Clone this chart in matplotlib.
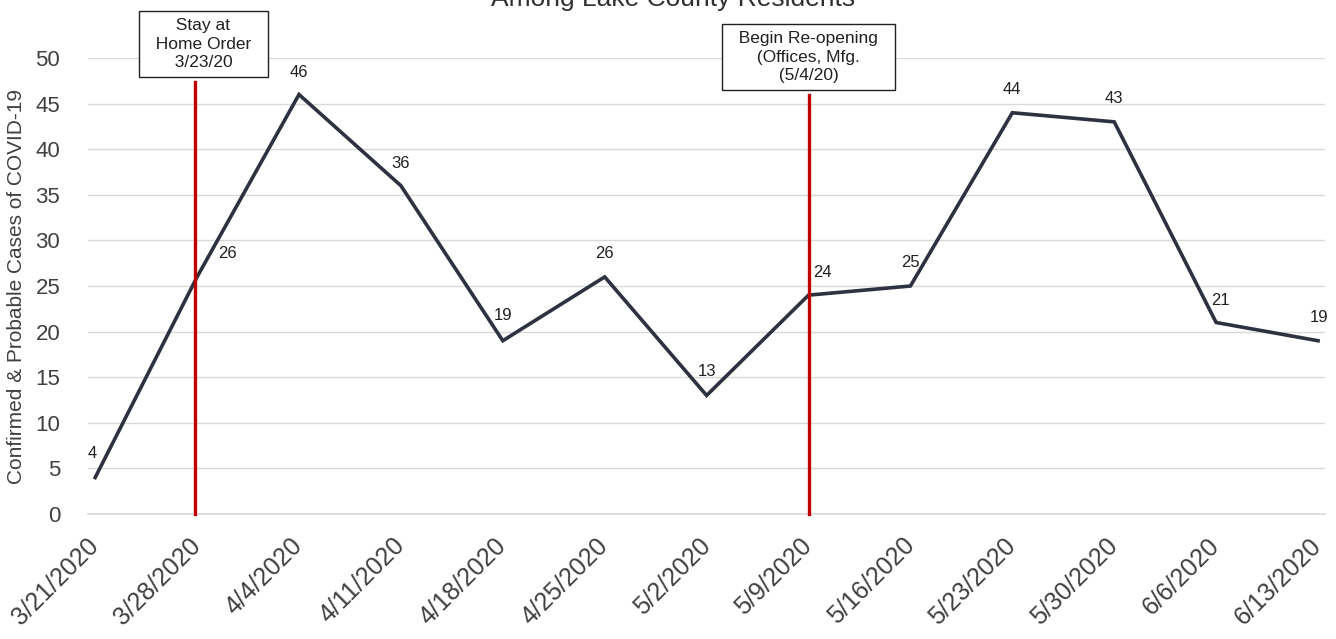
import matplotlib.pyplot as plt

plt.rcParams["font.family"] = ["Liberation Sans", "DejaVu Sans"]

weeks = ["3/21/2020", "3/28/2020", "4/4/2020", "4/11/2020", "4/18/2020",
         "4/25/2020", "5/2/2020", "5/9/2020", "5/16/2020", "5/23/2020",
         "5/30/2020", "6/6/2020", "6/13/2020"]
cases = [4, 26, 46, 36, 19, 26, 13, 24, 25, 44, 43, 21, 19]

# value label offsets from their points (dx, dy in points)
label_offsets = [(-2, 17), (22, 17), (0, 16), (0, 16), (0, 18), (0, 17), (0, 17),
                 (10, 16), (0, 17), (0, 17), (0, 17), (3, 16), (1, 17)]

events = ["  Stay at  \n  Home Order  \n  3/23/20  ",
          "  Begin Re-opening  \n  (Offices, Mfg.  \n  (5/4/20)  "]
event_x = [0.98, 7.0]
event_box_y = [51.5, 50.1]
event_line_top = [47.4, 45.9]
event_box_dx = [0.08, 0.0]

LINE = "#2E3140"
RED = "#C00000"
GRID = "#D9D9D9"
TEXT = "#404040"

fig = plt.figure(figsize=(13.36, 6.39), dpi=100)
ax = fig.add_axes([0.0659, 0.1956, 0.926, 0.7136])

x = list(range(len(weeks)))
ax.plot(x, cases, color=LINE, linewidth=2.6, zorder=3, solid_joinstyle="miter")

for xi, v, (dx, dy) in zip(x, cases, label_offsets):
    ax.annotate(str(v), (xi, v), xytext=(dx, dy), textcoords="offset points",
                ha="center", va="center", fontsize=12, color="#202020")

for label, ex, by, lt, bdx in zip(events, event_x, event_box_y, event_line_top, event_box_dx):
    ax.plot([ex, ex], [0, lt], color=RED, linewidth=2.4, zorder=4, clip_on=False)
    ax.text(ex + bdx, by, label, ha="center", va="center", fontsize=12.5,
            color="#202020", linespacing=1.3, zorder=5, clip_on=False,
            bbox=dict(boxstyle="square,pad=0.4", facecolor="white",
                      edgecolor="#202020", linewidth=1.0))

ax.set_xlim(-0.07, 12.07)
ax.set_ylim(0, 50)
ax.set_yticks(range(0, 51, 5))
ax.set_xticks(x)
ax.set_xticklabels(weeks, rotation=45, ha="right", va="center", rotation_mode="anchor")
ax.tick_params(axis="x", labelsize=18, colors=TEXT, length=0, pad=20)
ax.tick_params(axis="y", labelsize=16, colors=TEXT, length=0, pad=20)
ax.grid(True, axis="y", color=GRID, linewidth=1.0, zorder=0)
for side in ["top", "right", "left"]:
    ax.spines[side].set_visible(False)
ax.spines["bottom"].set_color(GRID)
ax.spines["bottom"].set_linewidth(1.2)
ax.set_ylabel("Confirmed & Probable Cases of COVID-19", fontsize=15, color=TEXT, labelpad=7)

fig.text(0.504, 1 - 6 / 639, "Among Lake County Residents", ha="center", va="baseline",
         fontsize=19, color="#303030")

fig.savefig("out.png", dpi=100)
